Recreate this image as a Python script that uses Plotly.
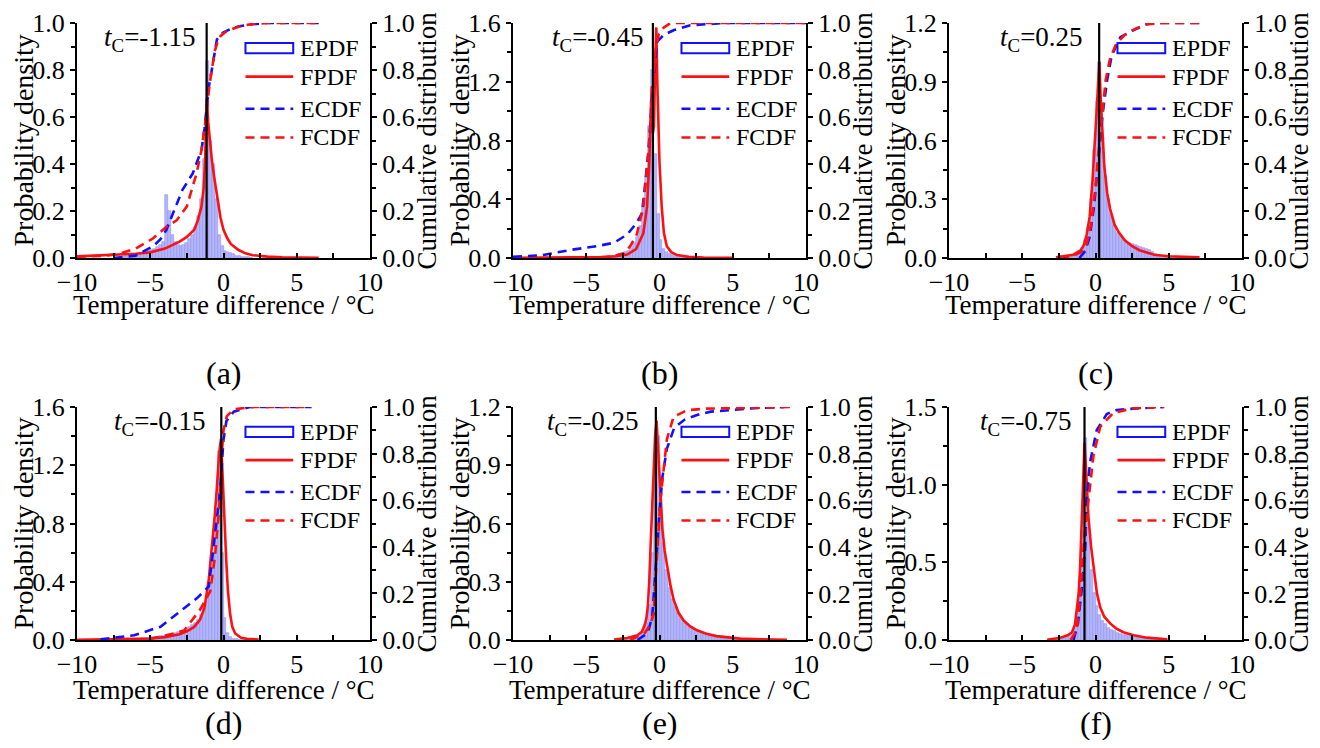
import numpy as np
import plotly.graph_objects as go

# panels in order (a) (b) (c) / (d) (e) (f)
panel_tags = ["(a)", "(b)", "(c)", "(d)", "(e)", "(f)"]
tc_values = [-1.15, -0.45, 0.25, -0.15, -0.25, -0.75]
pdf_ymax = [1.0, 1.6, 1.2, 1.6, 1.2, 1.5]
pdf_dtick = [0.2, 0.4, 0.3, 0.4, 0.3, 0.5]

# empirical PDF, bars of width 0.2 starting at hist_start
bin_width = 0.2
hist_start = [-7.0, -4.0, -2.0, -8.0, -3.0, -3.0]
epdf_a = [0.005, 0.008, 0.01, 0.012, 0.015, 0.018, 0.02, 0.022, 0.025, 0.03,
          0.035, 0.04, 0.045, 0.055, 0.07, 0.27, 0.2, 0.1, 0.07, 0.055,
          0.05, 0.055, 0.065, 0.08, 0.1, 0.13, 0.18, 0.25, 0.42, 0.84,
          0.5, 0.4, 0.25, 0.1, 0.05, 0.03, 0.025, 0.02, 0.015, 0.01,
          0.008, 0.006, 0.004, 0.003, 0.002]
epdf_b = [0.005, 0.008, 0.01, 0.012, 0.015, 0.02, 0.025, 0.03, 0.04, 0.05,
          0.07, 0.1, 0.14, 0.22, 0.35, 0.55, 0.9, 1.28, 0.71, 0.3,
          0.12, 0.06, 0.04, 0.03, 0.02, 0.015, 0.012, 0.01, 0.008, 0.006,
          0.005, 0.004, 0.003, 0.002, 0.001]
epdf_c = [0.002, 0.004, 0.008, 0.015, 0.03, 0.05, 0.09, 0.16, 0.3, 0.55,
          0.8, 1.0, 0.62, 0.42, 0.3, 0.22, 0.17, 0.13, 0.11, 0.09,
          0.08, 0.075, 0.07, 0.065, 0.06, 0.055, 0.05, 0.045, 0.04, 0.03,
          0.02, 0.015, 0.01, 0.008, 0.006, 0.004, 0.003, 0.002, 0.002, 0.001]
epdf_d = [0.002, 0.002, 0.003, 0.003, 0.004, 0.004, 0.005, 0.006, 0.007, 0.008,
          0.009, 0.01, 0.012, 0.014, 0.016, 0.018, 0.02, 0.023, 0.026, 0.03,
          0.033, 0.037, 0.042, 0.048, 0.055, 0.06, 0.068, 0.078, 0.09, 0.1,
          0.12, 0.14, 0.17, 0.22, 0.3, 0.4, 0.6, 0.9, 1.3, 0.6,
          0.15, 0.05, 0.02, 0.01, 0.005, 0.003, 0.002, 0.001, 0.001, 0.001]
epdf_e = [0.002, 0.003, 0.004, 0.006, 0.008, 0.01, 0.015, 0.02, 0.03, 0.05,
          0.09, 0.18, 0.45, 0.95, 1.05, 0.7, 0.5, 0.36, 0.27, 0.21,
          0.17, 0.14, 0.11, 0.09, 0.08, 0.065, 0.055, 0.047, 0.04, 0.035,
          0.03, 0.026, 0.022, 0.019, 0.016, 0.014, 0.012, 0.01, 0.009, 0.008,
          0.007, 0.006, 0.005, 0.005, 0.004, 0.004, 0.003, 0.003, 0.003, 0.002,
          0.002, 0.002, 0.002, 0.001, 0.001]
epdf_f = [0.002, 0.003, 0.005, 0.008, 0.012, 0.02, 0.035, 0.06, 0.12, 0.3,
          0.7, 1.3, 0.75, 0.45, 0.3, 0.22, 0.16, 0.12, 0.1, 0.08,
          0.065, 0.055, 0.047, 0.04, 0.035, 0.03, 0.026, 0.022, 0.018, 0.015,
          0.012, 0.01, 0.008, 0.007, 0.006, 0.005, 0.004, 0.003, 0.002, 0.001]

# fitted PDF
fpdf_a_x = [-10, -8, -6, -5, -4, -3, -2.5, -2, -1.75, -1.5, -1.35, -1.25, -1.15, -1.05,
            -0.95, -0.8, -0.65, -0.5, -0.35, -0.2, 0, 0.25, 0.5, 1.0, 1.5, 2, 3, 4, 6.5]
fpdf_a_y = [0.007, 0.012, 0.018, 0.024, 0.04, 0.07, 0.09, 0.12, 0.16, 0.22, 0.3, 0.42, 0.68, 0.58,
            0.5, 0.42, 0.35, 0.29, 0.22, 0.17, 0.12, 0.085, 0.06, 0.035, 0.02, 0.012, 0.006, 0.003, 0.001]
fpdf_b_x = [-10, -6, -4, -3, -2.2, -1.6, -1.1, -0.85, -0.7, -0.6, -0.52, -0.45, -0.38, -0.3,
            -0.22, -0.15, -0.1, 0.0, 0.15, 0.3, 0.5, 0.8, 1.2, 2, 3, 5]
fpdf_b_y = [0.001, 0.003, 0.006, 0.012, 0.023, 0.06, 0.17, 0.35, 0.65, 1.0, 1.17, 0.85, 0.9, 1.3,
            1.57, 1.2, 1.0, 0.65, 0.35, 0.17, 0.08, 0.04, 0.02, 0.008, 0.003, 0.001]
fpdf_c_x = [-2.7, -2, -1.5, -1.0, -0.8, -0.6, -0.4, -0.2, 0, 0.1, 0.2, 0.26, 0.35, 0.45,
            0.6, 0.8, 1.0, 1.3, 1.6, 2.0, 2.5, 3.0, 4.0, 5.0, 6.0, 7.1]
fpdf_c_y = [0.004, 0.01, 0.017, 0.04, 0.065, 0.12, 0.21, 0.4, 0.62, 0.78, 0.92, 1.0, 0.82, 0.65,
            0.47, 0.33, 0.25, 0.17, 0.13, 0.09, 0.06, 0.04, 0.017, 0.009, 0.005, 0.003]
fpdf_d_x = [-10, -8, -6, -5, -4, -3, -2.5, -2, -1.6, -1.3, -1.0, -0.8, -0.6, -0.45,
            -0.3, -0.17, -0.1, 0, 0.1, 0.2, 0.3, 0.45, 0.6, 0.8, 1.2, 1.6, 2.4]
fpdf_d_y = [0.002, 0.004, 0.007, 0.01, 0.02, 0.04, 0.06, 0.09, 0.14, 0.22, 0.42, 0.62, 0.85, 1.05,
            1.28, 1.38, 1.2, 0.95, 0.7, 0.52, 0.34, 0.18, 0.09, 0.045, 0.015, 0.008, 0.003]
fpdf_e_x = [-3.1, -2.2, -1.5, -1.2, -1.0, -0.9, -0.8, -0.7, -0.6, -0.5, -0.4, -0.3, -0.2,
            -0.1, 0.05, 0.2, 0.35, 0.52, 0.75, 0.97, 1.3, 1.65, 2.1, 2.56, 3.2, 3.9, 5.5, 7, 8.7]
fpdf_e_y = [0.003, 0.01, 0.025, 0.043, 0.08, 0.11, 0.17, 0.3, 0.5, 0.72, 0.9, 1.05, 1.13,
            1.0, 0.78, 0.57, 0.46, 0.38, 0.28, 0.206, 0.14, 0.1, 0.07, 0.05, 0.032, 0.02, 0.007, 0.003, 0.001]
fpdf_f_x = [-3.3, -2.4, -1.9, -1.6, -1.4, -1.27, -1.15, -1.05, -0.95, -0.85, -0.75, -0.65,
            -0.55, -0.48, -0.3, -0.14, 0.1, 0.32, 0.6, 1.0, 1.4, 1.9, 2.6, 3.5, 4.9]
fpdf_f_y = [0.001, 0.015, 0.03, 0.05, 0.1, 0.19, 0.3, 0.47, 0.75, 1.05, 1.27, 1.1,
            0.9, 0.79, 0.6, 0.47, 0.3, 0.21, 0.15, 0.107, 0.075, 0.05, 0.03, 0.015, 0.004]

# empirical CDF
ecdf_a_x = [-7.5, -6, -4.8, -4.3, -3.9, -3.4, -2.8, -2.1, -1.5, -1.3, -1.15, -1.0,
            -0.8, -0.6, -0.45, -0.2, 0, 0.5, 1.0, 2.0, 3.0, 6.5]
ecdf_a_y = [0.0, 0.01, 0.05, 0.08, 0.12, 0.2, 0.29, 0.36, 0.46, 0.55, 0.63, 0.73,
            0.8, 0.88, 0.93, 0.95, 0.96, 0.975, 0.985, 0.995, 1.0, 1.0]
ecdf_b_x = [-10, -8, -6, -4.3, -3.1, -2.2, -1.55, -1.2, -1.0, -0.75, -0.5, -0.3,
            -0.17, 0.3, 1.0, 2.1, 3, 4.4, 10]
ecdf_b_y = [0.005, 0.012, 0.035, 0.05, 0.065, 0.1, 0.15, 0.19, 0.3, 0.46, 0.68, 0.85,
            0.92, 0.95, 0.97, 0.99, 0.995, 1.0, 1.0]
ecdf_c_x = [-1.1, -0.7, -0.4, -0.1, 0.2, 0.5, 0.8, 1.1, 1.7, 2.6, 3.5, 4.2, 7.1]
ecdf_c_y = [0.0, 0.03, 0.09, 0.22, 0.42, 0.62, 0.76, 0.86, 0.94, 0.97, 0.995, 1.0, 1.0]
ecdf_d_x = [-8.4, -6.1, -4.3, -3.0, -1.8, -1.0, -0.7, -0.45, -0.3, -0.15, 0, 0.2, 0.7, 1.8, 6.0]
ecdf_d_y = [0.003, 0.02, 0.057, 0.12, 0.18, 0.23, 0.39, 0.52, 0.6, 0.72, 0.86, 0.94, 0.98, 1.0, 1.0]
ecdf_e_x = [-1.5, -0.8, -0.5, -0.3, -0.15, 0.0, 0.2, 0.5, 1.0, 1.7, 2.56, 3.5, 4.8, 6.5, 8.5]
ecdf_e_y = [0.0, 0.03, 0.1, 0.25, 0.4, 0.55, 0.7, 0.82, 0.91, 0.945, 0.966, 0.98, 0.987, 0.995, 1.0]
ecdf_f_x = [-1.5, -1.2, -0.9, -0.7, -0.6, -0.38, 0.08, 0.77, 1.45, 3.0, 4.6]
ecdf_f_y = [0.0, 0.07, 0.24, 0.4, 0.6, 0.76, 0.9, 0.97, 0.987, 0.995, 1.0]

# fitted CDF
fcdf_a_x = [-10, -8, -7, -6, -4.8, -3.9, -3.2, -2.5, -1.84, -1.5, -1.3, -1.15, -0.95,
            -0.8, -0.6, -0.4, -0.2, 0.2, 0.7, 1.2, 2, 3, 6.5]
fcdf_a_y = [0.005, 0.01, 0.02, 0.04, 0.084, 0.133, 0.16, 0.22, 0.36, 0.46, 0.55, 0.62, 0.74,
            0.81, 0.88, 0.92, 0.945, 0.965, 0.978, 0.988, 0.996, 1.0, 1.0]
fcdf_b_x = [-4.0, -3, -2.45, -2, -1.55, -1.1, -0.75, -0.47, -0.28, -0.06, 0.28, 0.75, 2, 10]
fcdf_b_y = [0.0, 0.01, 0.02, 0.05, 0.1, 0.22, 0.45, 0.68, 0.88, 0.95, 0.98, 1.0, 1.0, 1.0]
fcdf_c_x = [-2.4, -1.5, -1.0, -0.6, -0.3, 0, 0.2, 0.45, 0.7, 1.0, 1.4, 2.0, 2.7, 3.5, 4.5, 7.1]
fcdf_c_y = [0.0, 0.01, 0.025, 0.06, 0.14, 0.3, 0.45, 0.62, 0.76, 0.85, 0.91, 0.95, 0.975, 0.995, 1.0, 1.0]
fcdf_d_x = [-5, -3.9, -2.7, -1.6, -0.9, -0.58, -0.34, -0.24, -0.12, 0.0, 0.22, 0.7, 2.0, 6.0]
fcdf_d_y = [0.005, 0.02, 0.04, 0.13, 0.21, 0.36, 0.53, 0.62, 0.8, 0.9, 0.96, 0.99, 1.0, 1.0]
fcdf_e_x = [-2, -1.0, -0.6, -0.4, -0.2, 0.05, 0.28, 0.5, 0.96, 1.87, 3.2, 9.15]
fcdf_e_y = [0.0, 0.03, 0.07, 0.114, 0.33, 0.59, 0.73, 0.86, 0.958, 0.986, 0.993, 1.0]
fcdf_f_x = [-1.7, -1.27, -1.05, -0.8, -0.48, -0.14, 0.32, 1.23, 2.6, 4.7]
fcdf_f_y = [0.0, 0.043, 0.186, 0.41, 0.6, 0.79, 0.915, 0.975, 0.995, 1.0]

epdf_all = [epdf_a, epdf_b, epdf_c, epdf_d, epdf_e, epdf_f]
fpdf_all = [(fpdf_a_x, fpdf_a_y), (fpdf_b_x, fpdf_b_y), (fpdf_c_x, fpdf_c_y),
            (fpdf_d_x, fpdf_d_y), (fpdf_e_x, fpdf_e_y), (fpdf_f_x, fpdf_f_y)]
ecdf_all = [(ecdf_a_x, ecdf_a_y), (ecdf_b_x, ecdf_b_y), (ecdf_c_x, ecdf_c_y),
            (ecdf_d_x, ecdf_d_y), (ecdf_e_x, ecdf_e_y), (ecdf_f_x, ecdf_f_y)]
fcdf_all = [(fcdf_a_x, fcdf_a_y), (fcdf_b_x, fcdf_b_y), (fcdf_c_x, fcdf_c_y),
            (fcdf_d_x, fcdf_d_y), (fcdf_e_x, fcdf_e_y), (fcdf_f_x, fcdf_f_y)]

# the page body has an 8px margin, so the figure is 16px smaller than the window
OFF = 8
W, H = 1320 - 2 * OFF, 748 - 2 * OFF
FONT = "Liberation Serif"
RED = "#ff1010"
BLUE = "#1010ff"
DASH = "9px,6px"


def px_x(x):
    return (x - OFF) / W


def px_y(y):
    return 1 - (y - OFF) / H


# plot-area pixel boxes in window pixels
col_px = [(77, 370), (513, 806), (949, 1242)]
row_px = [(23, 258), (407, 640)]
xtitle_px = [305, 690]
tag_px = [373, 723]

fig = go.Figure()
layout = dict(width=W, height=H, margin=dict(l=0, r=0, t=0, b=0, autoexpand=False),
              paper_bgcolor="white", plot_bgcolor="white",
              showlegend=False, font=dict(family=FONT, size=25, color="black"),
              shapes=[], annotations=[])

legend_rows = [0.893, 0.772, 0.635, 0.513]
legend_names = ["EPDF", "FPDF", "ECDF", "FCDF"]

for i in range(6):
    r, c = divmod(i, 3)
    xn = "" if i == 0 else str(i + 1)
    yl = "" if i == 0 else str(2 * i + 1)
    yr = str(2 * i + 2)
    xd = [px_x(col_px[c][0]), px_x(col_px[c][1])]
    yd = [px_y(row_px[r][1]), px_y(row_px[r][0])]

    axis_common = dict(showgrid=False, zeroline=False, showline=True, linecolor="black",
                       linewidth=2, tickcolor="black", tickwidth=2, automargin=False,
                       tickfont=dict(family=FONT, size=26))
    layout["xaxis" + xn] = dict(domain=xd, anchor="y" + yl, range=[-10, 10], dtick=5,
                                ticks="inside", ticklen=5,
                                minor=dict(dtick=2.5, ticks="inside", ticklen=5,
                                           tickcolor="black", tickwidth=2),
                                **axis_common)
    layout["yaxis" + yl] = dict(domain=yd, anchor="x" + xn, range=[0, pdf_ymax[i]],
                                dtick=pdf_dtick[i], tickformat=".1f",
                                ticks="outside", ticklen=5,
                                minor=dict(dtick=pdf_dtick[i] / 2, ticks="outside", ticklen=4,
                                           tickcolor="black", tickwidth=2),
                                **axis_common)
    layout["yaxis" + yr] = dict(domain=yd, anchor="x" + xn, overlaying="y" + yl, side="right",
                                range=[0, 1.0], dtick=0.2, tickformat=".1f",
                                ticks="outside", ticklen=5,
                                minor=dict(dtick=0.1, ticks="outside", ticklen=4,
                                           tickcolor="black", tickwidth=2),
                                **axis_common)

    heights = epdf_all[i]
    centers = hist_start[i] + bin_width / 2 + bin_width * np.arange(len(heights))
    fig.add_trace(go.Bar(x=centers, y=heights, width=bin_width, name="EPDF",
                         marker=dict(color="rgb(180,182,250)",
                                     line=dict(color="rgb(146,148,238)", width=0.6)),
                         xaxis="x" + xn, yaxis="y" + yl))
    fx, fy = fpdf_all[i]
    fig.add_trace(go.Scatter(x=fx, y=fy, mode="lines", name="FPDF",
                             line=dict(color=RED, width=2.6),
                             xaxis="x" + xn, yaxis="y" + yl))
    ex, ey = ecdf_all[i]
    fig.add_trace(go.Scatter(x=ex, y=ey, mode="lines", name="ECDF",
                             line=dict(color=BLUE, width=2.6, dash=DASH),
                             xaxis="x" + xn, yaxis="y" + yr))
    cx, cy = fcdf_all[i]
    fig.add_trace(go.Scatter(x=cx, y=cy, mode="lines", name="FCDF",
                             line=dict(color=RED, width=2.6, dash=DASH),
                             xaxis="x" + xn, yaxis="y" + yr))

    # t_C line
    layout["shapes"].append(dict(type="line", xref="x" + xn, yref="y" + yl + " domain",
                                 x0=tc_values[i], x1=tc_values[i], y0=0, y1=1,
                                 line=dict(color="black", width=2.2), layer="above"))

    xdr = "x" + xn + " domain"
    ydr = "y" + yl + " domain"
    # legend drawn per panel
    for k, name in enumerate(legend_names):
        yk = legend_rows[k]
        if k == 0:
            layout["shapes"].append(dict(type="rect", xref=xdr, yref=ydr,
                                         x0=0.575, x1=0.738, y0=yk - 0.022, y1=yk + 0.022,
                                         line=dict(color=BLUE, width=2),
                                         fillcolor="rgba(0,0,0,0)", layer="above"))
        else:
            color = RED if k != 2 else BLUE
            dash = "solid" if k == 1 else DASH
            layout["shapes"].append(dict(type="line", xref=xdr, yref=ydr,
                                         x0=0.575, x1=0.738, y0=yk, y1=yk,
                                         line=dict(color=color, width=2.6, dash=dash),
                                         layer="above"))
        layout["annotations"].append(dict(text=name, xref=xdr, yref=ydr, x=0.755, y=yk,
                                          xanchor="left", yanchor="middle", showarrow=False,
                                          font=dict(family=FONT, size=24)))

    tc_x = [0.084, 0.126, 0.167, 0.118, 0.109, 0.1][i]
    layout["annotations"].append(dict(text="<i>t</i><sub>C</sub>=%g" % tc_values[i],
                                      xref=xdr, yref=ydr, x=tc_x, y=0.93,
                                      xanchor="left", yanchor="middle", showarrow=False,
                                      font=dict(family=FONT, size=27)))
    xc = (xd[0] + xd[1]) / 2
    layout["annotations"].append(dict(text="Temperature difference / °C", xref="paper",
                                      yref="paper", x=xc, y=px_y(xtitle_px[r]),
                                      xanchor="center", yanchor="middle", showarrow=False,
                                      font=dict(family=FONT, size=27)))
    layout["annotations"].append(dict(text=panel_tags[i], xref="paper", yref="paper",
                                      x=xc, y=px_y(tag_px[r]), xanchor="center",
                                      yanchor="middle", showarrow=False,
                                      font=dict(family=FONT, size=32)))
    layout["annotations"].append(dict(text="Probability density", xref="paper", yref=ydr,
                                      x=px_x(col_px[c][0] - 54), y=0.5, textangle=-90,
                                      xanchor="center", yanchor="middle", showarrow=False,
                                      font=dict(family=FONT, size=28)))
    layout["annotations"].append(dict(text="Cumulative distribution", xref="paper", yref=ydr,
                                      x=px_x(col_px[c][1] + 56), y=0.5, textangle=-90,
                                      xanchor="center", yanchor="middle", showarrow=False,
                                      font=dict(family=FONT, size=27)))

layout["bargap"] = 0
fig.update_layout(**layout)
fig.write_html("out.html")
